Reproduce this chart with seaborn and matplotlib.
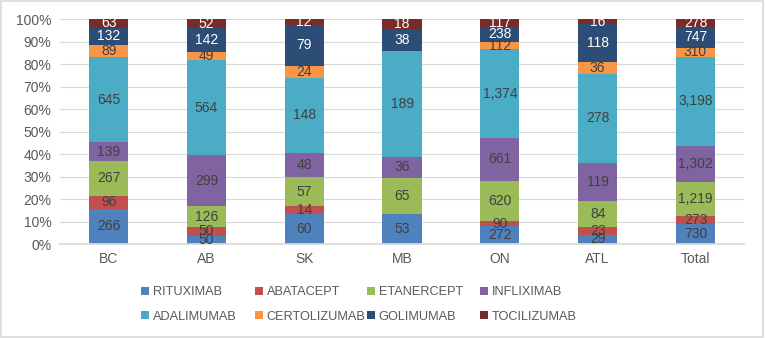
import numpy as np
import pandas as pd
import matplotlib
matplotlib.use("Agg")
import matplotlib.pyplot as plt
import seaborn as sns
from matplotlib.patches import Rectangle

regions = ["BC", "AB", "SK", "MB", "ON", "ATL", "Total"]
drugs = ["RITUXIMAB", "ABATACEPT", "ETANERCEPT", "INFLIXIMAB",
         "ADALIMUMAB", "CERTOLIZUMAB", "GOLIMUMAB", "TOCILIZUMAB"]
rituximab = [266, 50, 60, 53, 272, 29, 730]
abatacept = [96, 50, 14, 0, 90, 23, 273]
etanercept = [267, 126, 57, 65, 620, 84, 1219]
infliximab = [139, 299, 48, 36, 661, 119, 1302]
adalimumab = [645, 564, 148, 189, 1374, 278, 3198]
certolizumab = [89, 49, 24, 0, 112, 36, 310]
golimumab = [132, 142, 79, 38, 238, 118, 747]
tocilizumab = [63, 52, 12, 18, 117, 16, 278]
series = [rituximab, abatacept, etanercept, infliximab,
          adalimumab, certolizumab, golimumab, tocilizumab]
colors = ["#4F81BD", "#C0504D", "#9BBB59", "#8064A2",
          "#4BACC6", "#F79646", "#2C4D75", "#772C2A"]
label_colors = ["#404040"] * 6 + ["white", "white"]

sns.set_theme(style="white")
plt.rcParams['font.family'] = ['Liberation Sans', 'DejaVu Sans']

W, H = 765, 338
fig = plt.figure(figsize=(W / 100, H / 100), dpi=100)
ax = fig.add_axes([0.078, 0.278, 0.895, 0.665])

vals = np.array(series, dtype=float)
totals = vals.sum(axis=0)
pct = vals / totals * 100

bottom = np.zeros(len(regions))
for i, d in enumerate(drugs):
    df = pd.DataFrame({"region": regions, "pct": pct[i]})
    sns.barplot(data=df, x="region", y="pct", order=regions, color=colors[i],
                bottom=bottom, width=0.4, ax=ax, label=d, saturation=1,
                edgecolor="none", linewidth=0)
    for j in range(len(regions)):
        v = series[i][j]
        if v > 0:
            ax.text(j, bottom[j] + pct[i][j] / 2, f"{v:,}", ha="center", va="center",
                    fontsize=10, color=label_colors[i])
    bottom = bottom + pct[i]

ax.set_ylim(0, 100)
ax.set_xlim(-0.5, len(regions) - 0.5)
ax.set_yticks(np.arange(0, 101, 10))
ax.set_yticklabels([f"{t}%" for t in range(0, 101, 10)])
ax.set_xlabel("")
ax.set_ylabel("")
ax.yaxis.grid(True, color="#D9D9D9", linewidth=0.8)
ax.set_axisbelow(True)
for s in ["top", "right", "left"]:
    ax.spines[s].set_visible(False)
ax.spines["bottom"].set_color("#D9D9D9")
ax.tick_params(axis="both", colors="#595959", labelsize=10, length=0, pad=6)

handles, labels = ax.get_legend_handles_labels()
if ax.get_legend() is not None:
    ax.get_legend().remove()

# legend: 4 fixed-width columns, 2 rows (row-major order)
col_x = [141, 255, 367, 480]
for c in range(4):
    hs = [handles[c], handles[c + 4]]
    ls = [labels[c], labels[c + 4]]
    leg = fig.legend(hs, ls, loc="center left",
                     bbox_to_anchor=(col_x[c] / W, 1 - 304.5 / H),
                     ncol=1, frameon=False, fontsize=9.2, handlelength=0.6,
                     handleheight=0.6, handletextpad=0.3, borderpad=0,
                     borderaxespad=0, labelspacing=0.95)
    for t in leg.get_texts():
        t.set_color("#595959")

fig.patches.append(Rectangle((0.001, 0.002), 0.997, 0.995, transform=fig.transFigure,
                             fill=False, edgecolor="#D9D9D9", linewidth=1.2))

fig.savefig("out.png", dpi=100, facecolor="white")
